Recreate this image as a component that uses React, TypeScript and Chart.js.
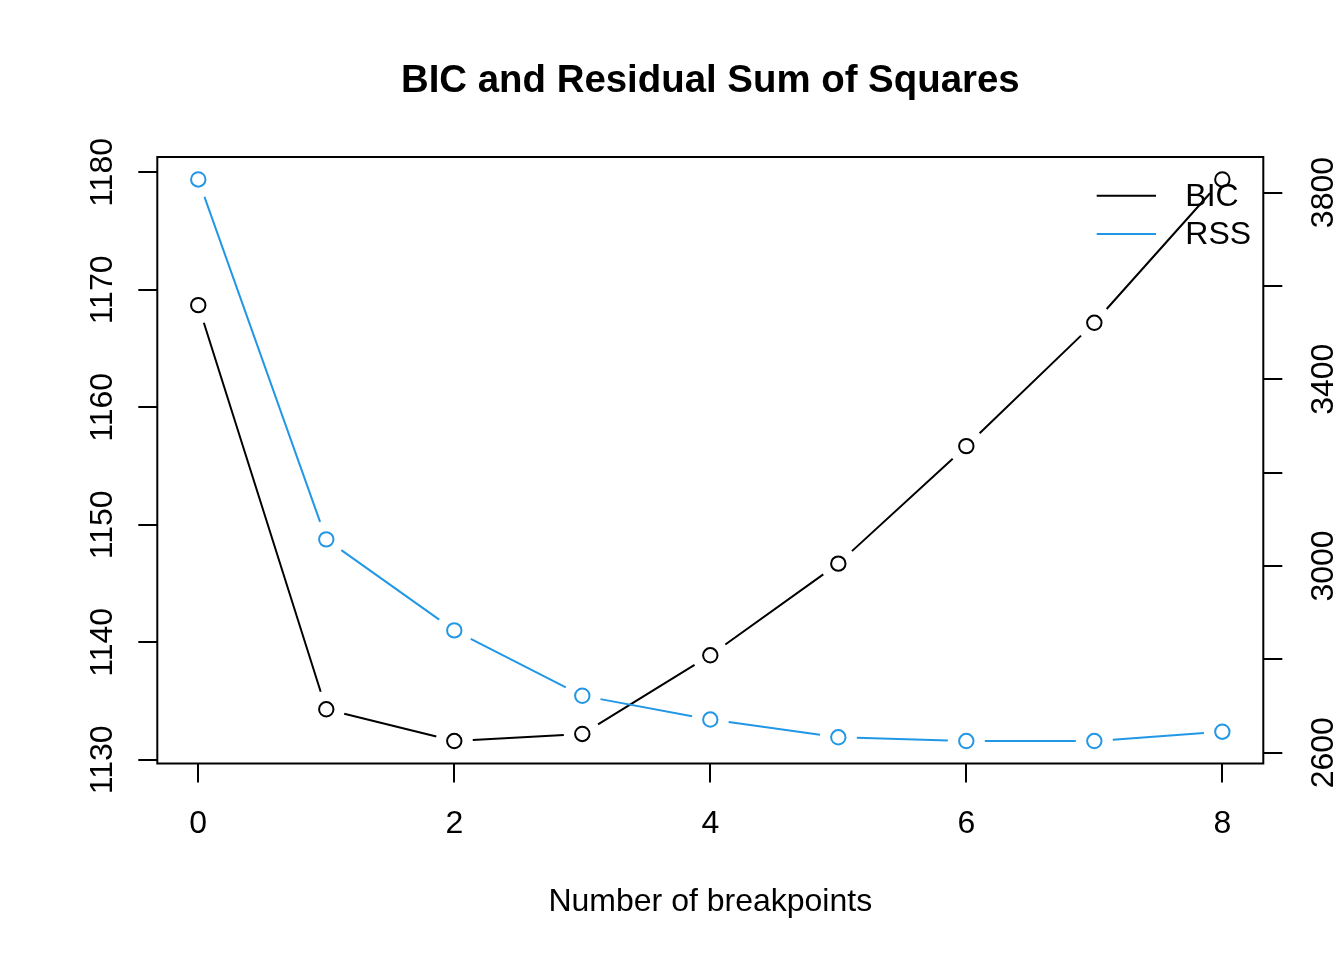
import { useEffect, useRef } from 'react';
import { Chart, registerables } from 'chart.js';

Chart.register(...registerables);

// values
const breakpoints = [0, 1, 2, 3, 4, 5, 6, 7, 8];
const bicValues = [1168.7, 1134.3, 1131.6, 1132.2, 1138.9, 1146.7, 1156.7, 1167.2, 1179.4];
const rssValues = [3828, 3057, 2862, 2722, 2671, 2633, 2625, 2625, 2645];
const bicTickLabels = [1130, 1140, 1150, 1160, 1170, 1180];
const rssTickLabels = [2600, 3000, 3400, 3800];
const seriesNames = ['BIC', 'RSS'];

const FONT = '"Liberation Sans", Arial, Helvetica, sans-serif';
const BLUE = '#2297E6';
const GAP = 18.5;

// R style axis range: data range stretched by 4% each side
function padRange(values: number[]): [number, number] {
  const lo = Math.min(...values);
  const hi = Math.max(...values);
  const d = (hi - lo) * 0.04;
  return [lo - d, hi + d];
}

// type = "b": segments stop short of the points
const gappedLines = {
  id: 'gappedLines',
  beforeDatasetsDraw(chart: any) {
    const { ctx } = chart;
    chart.data.datasets.forEach((ds: any, i: number) => {
      const pts = chart.getDatasetMeta(i).data;
      ctx.save();
      ctx.strokeStyle = ds.borderColor;
      ctx.lineWidth = 2;
      ctx.beginPath();
      for (let k = 1; k < pts.length; k++) {
        const a = pts[k - 1];
        const b = pts[k];
        const dx = b.x - a.x;
        const dy = b.y - a.y;
        const len = Math.hypot(dx, dy);
        if (len <= 2 * GAP) continue;
        const ux = dx / len;
        const uy = dy / len;
        ctx.moveTo(a.x + ux * GAP, a.y + uy * GAP);
        ctx.lineTo(b.x - ux * GAP, b.y - uy * GAP);
      }
      ctx.stroke();
      ctx.restore();
    });
  },
};

const frame = {
  id: 'frame',
  afterDraw(chart: any) {
    const { ctx, chartArea } = chart;
    const { left, right, top, bottom } = chartArea;
    const yBic = chart.scales.yBic;
    const yRss = chart.scales.yRss;
    ctx.save();

    // box
    ctx.strokeStyle = '#000';
    ctx.lineWidth = 2;
    ctx.strokeRect(left, top, right - left, bottom - top);

    // rotated y labels
    ctx.fillStyle = '#000';
    ctx.font = `32px ${FONT}`;
    ctx.textAlign = 'center';
    ctx.textBaseline = 'alphabetic';
    const vertical = (text: string, x: number, y: number) => {
      ctx.save();
      ctx.translate(x, y);
      ctx.rotate(-Math.PI / 2);
      ctx.fillText(text, 0, 0);
      ctx.restore();
    };
    bicTickLabels.forEach((v) => vertical(String(v), left - 45.8, yBic.getPixelForValue(v)));
    rssTickLabels.forEach((v) => vertical(String(v), right + 69.7, yRss.getPixelForValue(v)));

    // titles
    const cx = (left + right) / 2;
    ctx.fillText('Number of breakpoints', cx, 911);
    ctx.font = `bold 38.4px ${FONT}`;
    ctx.fillText('BIC and Residual Sum of Squares', cx, 92);

    // legend, no box
    ctx.font = `32px ${FONT}`;
    ctx.textAlign = 'left';
    ctx.textBaseline = 'middle';
    chart.data.datasets.forEach((ds: any, i: number) => {
      const y = top + 38.7 + i * 38.3;
      ctx.strokeStyle = ds.borderColor;
      ctx.beginPath();
      ctx.moveTo(right - 166.6, y);
      ctx.lineTo(right - 107.3, y);
      ctx.stroke();
      ctx.fillStyle = '#000';
      ctx.fillText(ds.label, right - 78, y + 1);
    });
    ctx.restore();
  },
};

const tickGrid = {
  drawOnChartArea: false,
  drawTicks: true,
  tickLength: 19,
  color: '#000',
  lineWidth: 2,
};

export default function App() {
  const canvasRef = useRef<HTMLCanvasElement>(null);

  useEffect(() => {
    document.body.style.margin = '0';
    const [bicMin, bicMax] = padRange(bicValues);
    const [rssMin, rssMax] = padRange(rssValues);
    const [xMin, xMax] = padRange(breakpoints);

    const pointStyle = (color: string) => ({
      borderColor: color,
      pointBorderColor: color,
      pointBackgroundColor: 'rgba(0,0,0,0)',
      pointRadius: 7.2,
      pointHoverRadius: 7.2,
      pointBorderWidth: 2,
      showLine: false,
    });

    const chart = new Chart(canvasRef.current!, {
      type: 'line',
      data: {
        datasets: [
          {
            label: seriesNames[0],
            data: breakpoints.map((x, i) => ({ x, y: bicValues[i] })),
            yAxisID: 'yBic',
            ...pointStyle('#000'),
          },
          {
            label: seriesNames[1],
            data: breakpoints.map((x, i) => ({ x, y: rssValues[i] })),
            yAxisID: 'yRss',
            ...pointStyle(BLUE),
          },
        ],
      },
      options: {
        responsive: true,
        maintainAspectRatio: false,
        animation: false,
        layout: { padding: { top: 157, left: 0, right: 0, bottom: 0 } },
        plugins: {
          legend: { display: false },
          tooltip: { enabled: false },
        },
        scales: {
          x: {
            type: 'linear',
            min: xMin,
            max: xMax,
            ticks: {
              stepSize: 2,
              includeBounds: false,
              color: '#000',
              font: { family: FONT, size: 32, lineHeight: 1 },
              padding: 26,
              maxRotation: 0,
              autoSkip: false,
            },
            grid: tickGrid,
            border: { display: false },
            afterFit: (s: any) => {
              s.height = 196.5;
            },
          },
          yBic: {
            type: 'linear',
            position: 'left',
            min: bicMin,
            max: bicMax,
            ticks: { stepSize: 10, includeBounds: false, display: false },
            grid: tickGrid,
            border: { display: false },
            afterFit: (s: any) => {
              s.width = 157.3;
            },
          },
          yRss: {
            type: 'linear',
            position: 'right',
            min: rssMin,
            max: rssMax,
            ticks: { stepSize: 200, includeBounds: false, display: false },
            grid: tickGrid,
            border: { display: false },
            afterFit: (s: any) => {
              s.width = 80.7;
            },
          },
        },
      } as any,
      plugins: [gappedLines, frame],
    });

    return () => chart.destroy();
  }, []);

  return (
    <div style={{ width: 1344, height: 960, position: 'relative', background: '#fff' }}>
      <canvas ref={canvasRef} />
    </div>
  );
}
